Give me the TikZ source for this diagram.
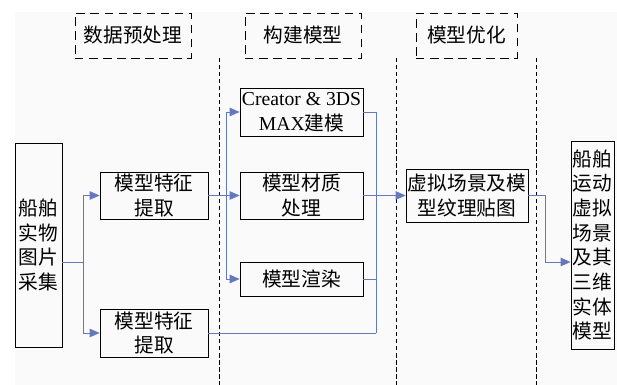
\documentclass[tikz,border=0pt]{standalone}
\usepackage{fontspec}
\setmainfont{Noto Sans CJK SC}
\newfontfamily\latinfont{Liberation Serif}
\usetikzlibrary{arrows.meta}

\definecolor{flowblue}{RGB}{100,120,190}

\tikzset{
  stage/.style={draw, dash pattern=on 6pt off 4pt, semithick, inner sep=0pt, minimum height=45*0.025cm},
  proc/.style={draw, semithick, inner sep=1pt, align=center, font=\fontsize{14}{17.5}\selectfont},
  flow/.style={flowblue, thin},
  flowarrow/.style={flow, -{Triangle[length=7pt,width=6pt]}}
}

\begin{document}
\begin{tikzpicture}[x=0.025cm,y=-0.025cm, font=\fontsize{14}{17.5}\selectfont]
\useasboundingbox (0,0) rectangle (617,385);
\fill [black!2] (15,12) rectangle (617,385);

% stages
\node[stage, minimum width=116*0.025cm] (prep) at (133,35.5) {数据预处理};
\node[stage, minimum width=116*0.025cm] (build) at (303,35.5) {构建模型};
\node[stage, minimum width=101*0.025cm] (optim) at (466.5,35.5) {模型优化};

\draw[dash pattern=on 3pt off 2pt] (219,58) -- (219,385);
\draw[dash pattern=on 3pt off 2pt] (396,58) -- (396,385);
\draw[dash pattern=on 3pt off 2pt] (536,58) -- (536,385);

% boxes
\node[proc, minimum width=47*0.025cm, minimum height=204*0.025cm] (photo) at (38.5,245) {船舶\\实物\\图片\\采集};
\node[proc, minimum width=108*0.025cm, minimum height=47*0.025cm] (featA) at (154,195.5) {模型特征\\提取};
\node[proc, minimum width=108*0.025cm, minimum height=48*0.025cm] (featB) at (154,333) {模型特征\\提取};
\node[proc, minimum width=123*0.025cm, minimum height=48*0.025cm] (creator) at (301.5,112) {{\latinfont Creator \& 3DS}\\{\latinfont MAX}建模};
\node[proc, minimum width=123*0.025cm, minimum height=47*0.025cm] (material) at (301.5,195.5) {模型材质\\处理};
\node[proc, minimum width=123*0.025cm, minimum height=34*0.025cm] (render) at (301.5,279) {模型渲染};
\node[proc, minimum width=122*0.025cm, minimum height=53*0.025cm] (scene) at (467,195.5) {虚拟场景及模\\型纹理贴图};
\node[proc, inner sep=0pt, minimum width=43*0.025cm, minimum height=208*0.025cm] (result) at (592.5,245) {船舶\\运动\\虚拟\\场景\\及其\\三维\\实体\\模型};

% connectors
\coordinate (splitA) at (83,262);
\coordinate (splitB) at (226,195.5);
\coordinate (merge) at (376,333);
\coordinate (bend) at (545,262);

\draw[flow] (photo.east |- splitA) -- (splitA);
\draw[flowarrow] (splitA) |- (featA);
\draw[flowarrow] (splitA) |- (featB);

\draw[flowarrow] (featA) -- (material);
\draw[flowarrow] (splitB) |- (creator);
\draw[flowarrow] (splitB) |- (render);

\draw[flow] (creator) -| (merge);
\draw[flow] (render) -- (render -| merge);
\draw[flow] (featB) -- (merge);
\draw[flowarrow] (material) -- (scene);

\draw[flowarrow] (scene) -| (bend) -- (bend -| result.west);
\end{tikzpicture}
\end{document}
